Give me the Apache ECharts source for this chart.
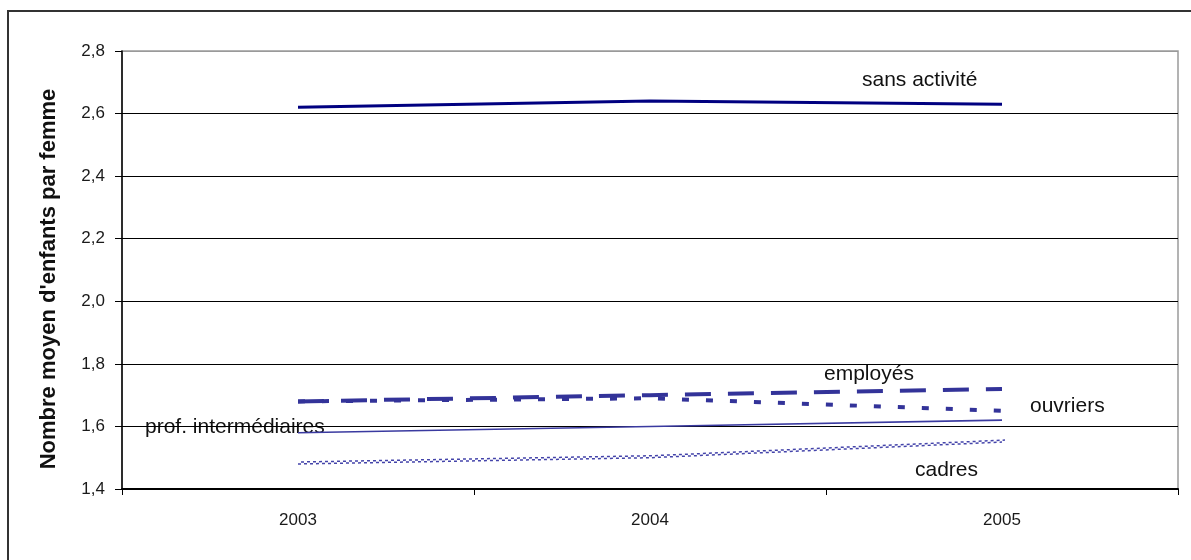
<!DOCTYPE html>
<html>
<head>
<meta charset="utf-8">
<script src="https://cdn.jsdelivr.net/npm/echarts@6/dist/echarts.min.js"></script>
<style>
  html, body { margin: 0; padding: 0; background: #fff; }
  #chart { width: 1191px; height: 560px; }
</style>
</head>
<body>
<div id="chart"></div>
<script>
// Years on the category axis
const years = ['2003', '2004', '2005'];

// Average number of children per woman, by socio-professional category
const sansActivite = [2.62, 2.64, 2.63];
const employes = [1.68, 1.70, 1.72];
const ouvriers = [1.68, 1.69, 1.65];
const profIntermediaires = [1.58, 1.60, 1.62];
const cadres = [1.48, 1.50, 1.55];

// Value axis range
const yMin = 1.4;
const yMax = 2.8;
const yStep = 0.2;

const yAxisTitle = "Nombre moyen d'enfants par femme";

const FONT = 'Liberation Sans, Arial, sans-serif';
const LINE_BLUE = '#333399';

const chart = echarts.init(document.getElementById('chart'), null, { renderer: 'canvas' });

// Split lines: black inside the plot, the top one grey like the plot border
const splitColors = ['#000', '#000', '#000', '#000', '#000', '#000', '#000', '#9a9a9a'];

// Series name written next to its line
function seriesLabel(text, x, y) {
  return {
    type: 'text',
    x: x,
    y: y,
    style: { text: text, font: '21px ' + FONT, fill: '#111', verticalAlign: 'middle' }
  };
}

chart.setOption({
  animation: false,
  backgroundColor: '#fff',
  grid: {
    left: 122, right: 13, top: 51, bottom: 71,
    show: true, borderColor: '#9a9a9a', borderWidth: 1.5
  },
  xAxis: {
    type: 'category',
    data: years,
    boundaryGap: true,
    axisLine: { show: true, lineStyle: { color: '#000', width: 2 } },
    axisTick: { show: true, length: 6, lineStyle: { color: '#000', width: 1 } },
    axisLabel: { color: '#1a1a1a', fontFamily: FONT, fontSize: 17, margin: 23 },
    splitLine: { show: false }
  },
  yAxis: {
    type: 'value',
    min: yMin, max: yMax, interval: yStep,
    axisLine: { show: true, lineStyle: { color: '#000', width: 1.5 } },
    axisTick: { show: true, length: 7, lineStyle: { color: '#000', width: 1 } },
    axisLabel: {
      color: '#1a1a1a', fontFamily: FONT, fontSize: 17, margin: 17,
      formatter: v => v.toFixed(1).replace('.', ',')
    },
    splitLine: { show: true, lineStyle: { color: splitColors, width: 1 } }
  },
  series: [
    {
      name: 'sans activité', type: 'line', data: sansActivite,
      symbol: 'none', z: 5,
      lineStyle: { color: '#000080', width: 3 }
    },
    {
      name: 'employés', type: 'line', data: employes,
      symbol: 'none', z: 4,
      lineStyle: { color: LINE_BLUE, width: 4, type: [26, 17] }
    },
    {
      name: 'ouvriers', type: 'line', data: ouvriers,
      symbol: 'none', z: 4,
      lineStyle: { color: LINE_BLUE, width: 4, type: [7, 17] }
    },
    {
      name: 'prof. intermédiaires', type: 'line', data: profIntermediaires,
      symbol: 'none', z: 3,
      lineStyle: { color: '#3a3aa0', width: 1.6 }
    },
    {
      // square-wave texture: a dashed stroke plus a shifted copy of itself
      name: 'cadres', type: 'line', data: cadres,
      symbol: 'none', z: 3,
      lineStyle: {
        color: '#4444aa', width: 1.5, type: [3, 3],
        shadowColor: '#4444aa', shadowBlur: 0, shadowOffsetX: 3, shadowOffsetY: -2
      }
    }
  ],
  graphic: [
    // outer chart frame
    {
      type: 'rect',
      shape: { x: 8, y: 11, width: 1200, height: 600 },
      style: { fill: 'none', stroke: '#333', lineWidth: 2 },
      silent: true, z: 100
    },
    {
      type: 'text',
      x: 49, y: 279,
      rotation: Math.PI / 2,
      style: {
        text: yAxisTitle, font: 'bold 22px ' + FONT, fill: '#111',
        align: 'center', verticalAlign: 'middle'
      }
    },
    seriesLabel('sans activité', 862, 80),
    seriesLabel('employés', 824, 374),
    seriesLabel('ouvriers', 1030, 406),
    seriesLabel('prof. intermédiaires', 145, 427),
    seriesLabel('cadres', 915, 470)
  ]
});
</script>
</body>
</html>
